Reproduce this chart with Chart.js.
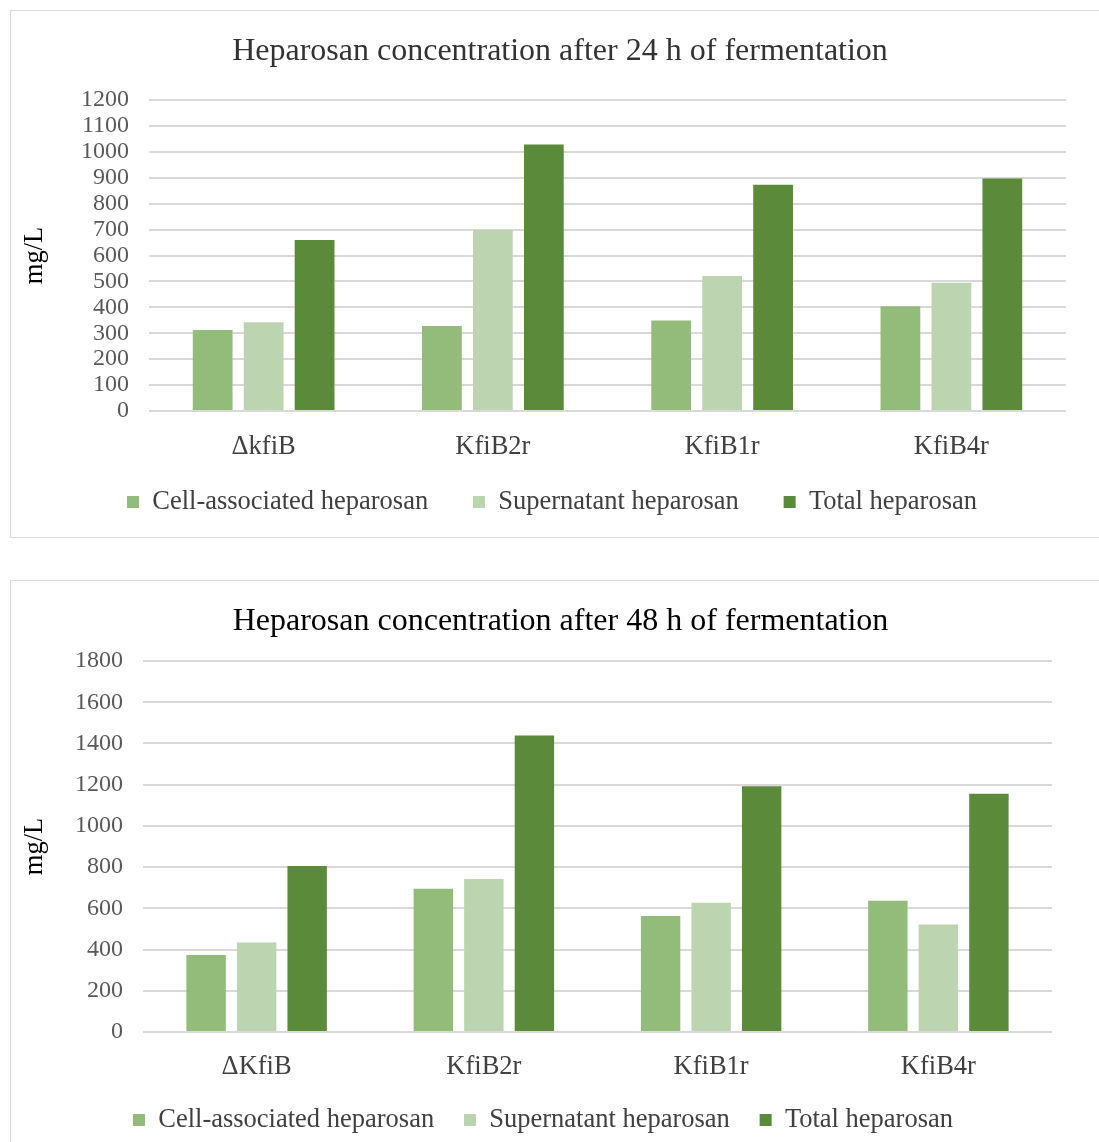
<!DOCTYPE html>
<html><head><meta charset="utf-8">
<script src="https://cdn.jsdelivr.net/npm/chart.js@4"></script>
<style>
html,body{margin:0;padding:0;background:#fff;overflow:hidden;width:1099px;height:1142px}
.box{position:absolute;border:1px solid #d9d9d9;box-sizing:border-box;overflow:hidden;background:#fff}
#b1{left:10px;top:10px;width:1100px;height:528px}
#b2{left:10px;top:580px;width:1100px;height:600px}
canvas{position:absolute;left:0;top:0}
</style></head><body>
<div class="box" id="b1"><canvas id="c1" width="1088" height="525"></canvas></div>
<div class="box" id="b2"><canvas id="c2" width="1088" height="561"></canvas></div>
<script>
// ---- data ----
const seriesNames = ['Cell-associated heparosan', 'Supernatant heparosan', 'Total heparosan'];
const seriesColors = ['#93bc7a', '#bdd4b1', '#5b8a3a'];

const title24 = 'Heparosan concentration after 24 h of fermentation';
const categories24 = ['\u0394kfiB', 'KfiB2r', 'KfiB1r', 'KfiB4r'];
const cell24 = [313, 328, 349, 404];
const super24 = [342, 698, 521, 495];
const total24 = [660, 1028, 873, 897];
const yMax24 = 1200, yStep24 = 100;

const title48 = 'Heparosan concentration after 48 h of fermentation';
const categories48 = ['\u0394KfiB', 'KfiB2r', 'KfiB1r', 'KfiB4r'];
const cell48 = [374, 695, 563, 637];
const super48 = [434, 742, 627, 522];
const total48 = [805, 1439, 1192, 1156];
const yMax48 = 1800, yStep48 = 200;

const yTitle = 'mg/L';
const FONT = "'Liberation Serif', 'Times New Roman', serif";

function makeChart(id, L) {
  const values = [L.cell, L.sup, L.total];
  const placeBlocks = {
    id: 'placeBlocks',
    afterLayout(chart) {
      const lg = chart.legend;
      const h = L.legPad + 26.5 + 20;
      lg.top = L.legTop; lg.height = h; lg.bottom = L.legTop + h;
      const t = chart.titleBlock;
      t.left += L.titleShift; t.right += L.titleShift;
    }
  };
  return new Chart(document.getElementById(id), {
    type: 'bar',
    data: {
      labels: L.categories,
      datasets: values.map((v, i) => ({
        label: seriesNames[i], data: v,
        backgroundColor: seriesColors[i], borderWidth: 0,
        categoryPercentage: 0.667, barPercentage: 0.78
      }))
    },
    plugins: [placeBlocks],
    options: {
      responsive: false, animation: false, devicePixelRatio: 1,
      layout: { padding: { left: L.padL, right: L.padR, top: 0, bottom: 0 } },
      plugins: {
        tooltip: { enabled: false },
        title: {
          display: true, text: L.title, color: L.titleColor,
          font: { family: FONT, size: 32, weight: 'normal' },
          padding: { top: 21, bottom: L.titlePadB }
        },
        legend: {
          position: 'bottom', align: 'center', maxHeight: 40,
          labels: {
            boxWidth: 12, boxHeight: 12, padding: L.legPad, color: '#404040',
            font: { family: FONT, size: 26.5 }
          }
        }
      },
      scales: {
        x: {
          grid: { display: false, drawTicks: false },
          border: { display: false },
          ticks: { color: '#404040', padding: L.xTickPad, font: { family: FONT, size: 26.5 } },
          afterFit: s => { s.height = L.xH; }
        },
        y: {
          min: 0, max: L.yMax,
          grid: { color: '#d9d9d9', lineWidth: 2, drawTicks: false },
          border: { display: false },
          ticks: {
            stepSize: L.yStep, autoSkip: false, color: '#595959', padding: L.yTickPad,
            font: { family: FONT, size: 24 },
            callback: v => String(v)
          },
          title: {
            display: true, text: yTitle, color: '#000',
            font: { family: FONT, size: 26.5 },
            padding: { top: L.yTitlePad, bottom: 0 }
          },
          afterFit: s => { s.width = L.yW; }
        }
      }
    }
  });
}

makeChart('c1', {
  title: title24, titleColor: '#333333', categories: categories24,
  cell: cell24, sup: super24, total: total24, yMax: yMax24, yStep: yStep24,
  padL: 27, padR: 33, titlePadB: 29.6, legPad: 44.8, legTop: 433, titleShift: 8,
  xTickPad: 20, xH: 85, yTickPad: 20, yW: 111, yTitlePad: -18.9
});
makeChart('c2', {
  title: title48, titleColor: '#000000', categories: categories48,
  cell: cell48, sup: super48, total: total48, yMax: yMax48, yStep: yStep48,
  padL: 23, padR: 47, titlePadB: 20.6, legPad: 29.8, legTop: 496, titleShift: 17.5,
  xTickPad: 19, xH: 70, yTickPad: 20, yW: 109, yTitlePad: -14.9
});
</script>
</body></html>
